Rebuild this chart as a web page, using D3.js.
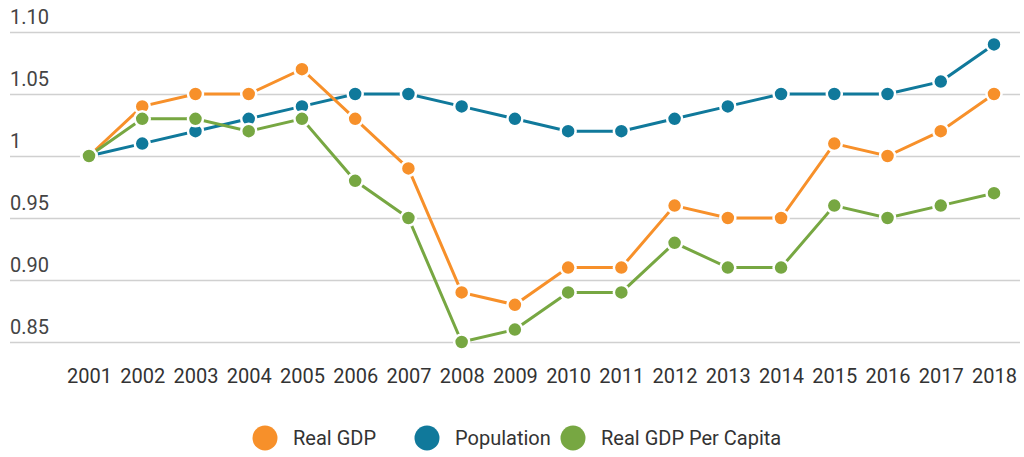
<!DOCTYPE html>
<html><head><meta charset="utf-8">
<script src="https://cdn.jsdelivr.net/npm/d3@7"></script>
<style>body{margin:0;background:#fff;} svg{display:block;font-family:Roboto,"Open Sans",sans-serif;}</style>
</head><body>
<svg id="c" width="1024" height="457"></svg>
<script>
const years = [2001,2002,2003,2004,2005,2006,2007,2008,2009,2010,2011,2012,2013,2014,2015,2016,2017,2018];
const realGDP = [1.00,1.04,1.05,1.05,1.07,1.03,0.99,0.89,0.88,0.91,0.91,0.96,0.95,0.95,1.01,1.00,1.02,1.05];
const population = [1.00,1.01,1.02,1.03,1.04,1.05,1.05,1.04,1.03,1.02,1.02,1.03,1.04,1.05,1.05,1.05,1.06,1.09];
const perCapita = [1.00,1.03,1.03,1.02,1.03,0.98,0.95,0.85,0.86,0.89,0.89,0.93,0.91,0.91,0.96,0.95,0.96,0.97];
const yTicks = [0.85,0.90,0.95,1,1.05,1.10];
const yTickLabels = ["0.85","0.90","0.95","1","1.05","1.10"];
const seriesNames = ["Real GDP","Population","Real GDP Per Capita"];
const colors = ["#F7902A","#10799B","#77A742"];

const svg = d3.select("#c");
const x = d3.scalePoint().domain(years).range([89,994]);
const y = d3.scaleLinear().domain([0.85,1.10]).range([342,32]);

// grid
const yAxis = d3.axisLeft(y).tickValues(yTicks).tickSize(-1010).tickFormat((d,i)=>yTickLabels[i]);
const gy = svg.append("g").attr("transform","translate(10,0)").call(yAxis);
gy.select(".domain").remove();
gy.selectAll(".tick line").attr("stroke","#d0d0d0").attr("stroke-width",1.5);
gy.selectAll(".tick text").attr("x",0).attr("dy","-9").attr("text-anchor","start")
  .attr("fill","#444").style("font-size","20px").style("font-family","Roboto");

// x axis
const xAxis = d3.axisBottom(x).tickSize(0).tickPadding(0);
const gx = svg.append("g").attr("transform","translate(0,369)").call(xAxis);
gx.select(".domain").remove();
gx.selectAll(".tick text").attr("fill","#333").attr("dy","0.71em").style("font-size","20px").style("font-family","Roboto");

const data = [realGDP, population, perCapita];
const line = d3.line().x((d,i)=>x(years[i])).y(d=>y(d));
const order = [1,0,2];
order.forEach(k=>{
  const g = svg.append("g");
  g.append("path").datum(data[k]).attr("d",line).attr("fill","none")
    .attr("stroke",colors[k]).attr("stroke-width",3);
  g.selectAll("circle").data(data[k]).enter().append("circle")
    .attr("cx",(d,i)=>x(years[i])).attr("cy",d=>y(d)).attr("r",7.5)
    .attr("fill",colors[k]).attr("stroke","#fff").attr("stroke-width",2.5);
});

// legend
const legX = [265,427,573];
const lg = svg.append("g");
seriesNames.forEach((n,i)=>{
  lg.append("circle").attr("cx",legX[i]).attr("cy",438).attr("r",12.5).attr("fill",colors[i]);
  lg.append("text").attr("x",legX[i]+28).attr("y",438).attr("dy","0.35em")
    .attr("fill","#333").style("font-size","20px").text(n);
});
</script>
</body></html>
